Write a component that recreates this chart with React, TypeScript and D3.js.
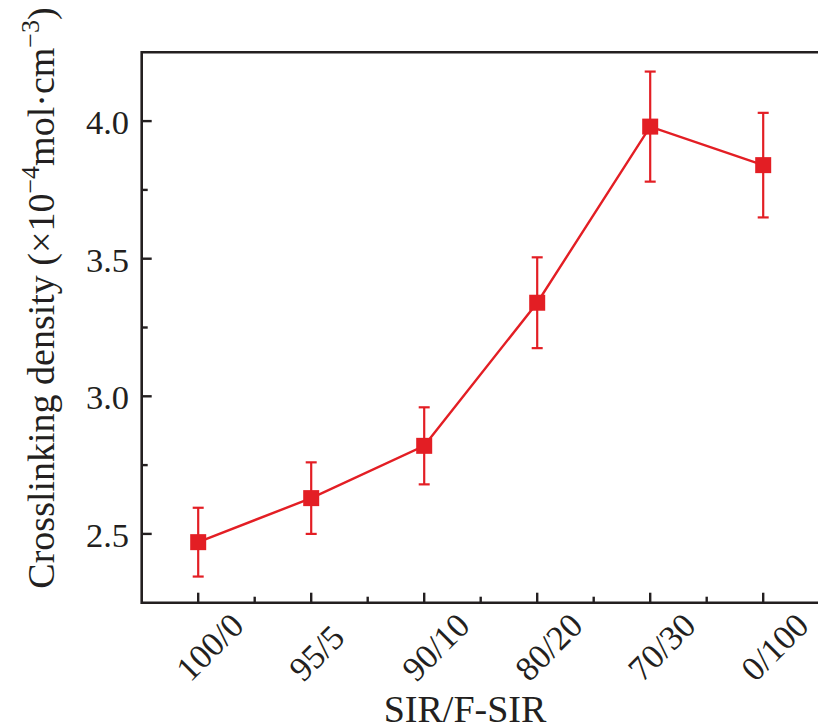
import React from "react";
import * as d3 from "d3";

const categories = ["100/0", "95/5", "90/10", "80/20", "70/30", "0/100"];
const values = [2.47, 2.63, 2.82, 3.34, 3.98, 3.84];
const errors = [0.125, 0.13, 0.14, 0.165, 0.2, 0.19];
const yMajor = [2.5, 3.0, 3.5, 4.0];
const yMinor = [2.75, 3.25, 3.75];
const xTitle = "SIR/F-SIR";

const W = 818;
const H = 726;
const left = 141.7;
const right = 819.7;
const top = 52.3;
const bottom = 602.7;
const RED = "#e31e24";
const AX = "#231f20";
const FONT = "'Liberation Serif', 'Times New Roman', serif";

export default function App() {
  const x = d3.scalePoint<string>().domain(categories).range([left, right]).padding(0.5);
  const y = d3.scaleLinear().domain([2.25, 4.25]).range([bottom, top]);
  const step = x.step();
  const pts = categories.map((c, i) => ({ c, v: values[i], e: errors[i] }));
  const line = d3
    .line<{ c: string; v: number }>()
    .x((d) => x(d.c) as number)
    .y((d) => y(d.v));
  const ms = 16;
  const cap = 5.5;

  return (
    <div style={{ position: "absolute", left: 0, top: 0 }}>
      <svg width={W} height={H} style={{ display: "block", background: "#fff" }} fontFamily={FONT}>
        <rect x={0} y={0} width={W} height={H} fill="#fff" />
        {/* axes */}
        <line x1={left} x2={right} y1={top} y2={top} stroke={AX} strokeWidth={2.6} />
        <line x1={left} x2={right} y1={bottom} y2={bottom} stroke={AX} strokeWidth={2.6} />
        <line x1={left} x2={left} y1={top - 1.3} y2={bottom + 1.3} stroke={AX} strokeWidth={2.6} />
        {/* y ticks */}
        {yMajor.map((t) => (
          <g key={"ym" + t}>
            <line x1={left} x2={left + 10} y1={y(t)} y2={y(t)} stroke={AX} strokeWidth={2.4} />
            <text x={129} y={y(t)} dy="0.38em" textAnchor="end" fontSize={34.5} fill={AX}>
              {t.toFixed(1)}
            </text>
          </g>
        ))}
        {yMinor.map((t) => (
          <line key={"yn" + t} x1={left} x2={left + 6} y1={y(t)} y2={y(t)} stroke={AX} strokeWidth={2.4} />
        ))}
        {/* x ticks */}
        {categories.map((c) => (
          <g key={"xm" + c}>
            <line x1={x(c)} x2={x(c)} y1={bottom} y2={bottom - 10} stroke={AX} strokeWidth={2.4} />
            <text
              transform={`translate(${(x(c) as number) - 8},${683}) rotate(-45)`}
              textAnchor="start"
              fontSize={34.5}
              fill={AX}
            >
              {c}
            </text>
          </g>
        ))}
        {categories.slice(0, categories.length - 1).map((c) => (
          <line
            key={"xn" + c}
            x1={(x(c) as number) + step / 2}
            x2={(x(c) as number) + step / 2}
            y1={bottom}
            y2={bottom - 6}
            stroke={AX}
            strokeWidth={2.4}
          />
        ))}
        {/* titles */}
        <text x={465} y={722} textAnchor="middle" fontSize={38} fill={AX}>
          {xTitle}
        </text>
        <text transform="translate(54,298) rotate(-90)" textAnchor="middle" fontSize={38} fill={AX}>
          Crosslinking density (×10
          <tspan fontSize={26} dy={-15}>−4</tspan>
          <tspan dy={15}>mol·cm</tspan>
          <tspan fontSize={26} dy={-15}>−3</tspan>
          <tspan dy={15}>)</tspan>
        </text>
        {/* error bars */}
        {pts.map((p) => {
          const cx = x(p.c) as number;
          return (
            <g key={"e" + p.c} stroke={RED} strokeWidth={2.2}>
              <line x1={cx} x2={cx} y1={y(p.v + p.e)} y2={y(p.v - p.e)} />
              <line x1={cx - cap} x2={cx + cap} y1={y(p.v + p.e)} y2={y(p.v + p.e)} />
              <line x1={cx - cap} x2={cx + cap} y1={y(p.v - p.e)} y2={y(p.v - p.e)} />
            </g>
          );
        })}
        <path d={line(pts) || ""} fill="none" stroke={RED} strokeWidth={2.4} />
        {pts.map((p) => (
          <rect
            key={"m" + p.c}
            x={(x(p.c) as number) - ms / 2}
            y={y(p.v) - ms / 2}
            width={ms}
            height={ms}
            fill={RED}
          />
        ))}
      </svg>
    </div>
  );
}
